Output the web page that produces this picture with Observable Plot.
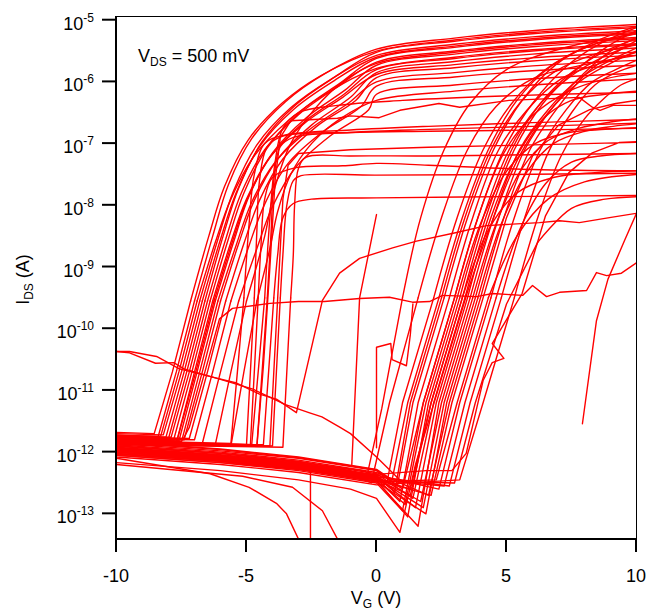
<!DOCTYPE html>
<html><head><meta charset="utf-8">
<script src="https://cdn.jsdelivr.net/npm/d3@7"></script>
<script src="https://cdn.jsdelivr.net/npm/@observablehq/plot@0.6"></script>
<style>
body{margin:0;background:#fff}
svg{font-family:"Liberation Sans",Arial,sans-serif}
</style>
</head><body><div id="chart"></div>
<script>
// Axis ticks
const xTicks = [-10, -5, 0, 5, 10];
const yTickExponents = [-13, -12, -11, -10, -9, -8, -7, -6, -5];
const yDomainExp = [-13.416, -4.94];

// Each curve: [VG (V), log10 IDS (A)] pairs
const dev01 = [[10,-5.07],[6,-5.17],[3,-5.29],[0,-5.47],[-2,-5.87],[-3.5,-6.32],[-4.8,-6.92],[-5.7,-7.67],[-6.3,-8.5],[-7.0,-9.55],[-7.7,-10.7],[-8.4,-11.75],[-10,-11.72],
  [-10,-11.84],[-6,-11.96],[-3,-12.09],[0,-12.29],[1.0,-12.6],[1.8,-11.2],[3.0,-9.5],[3.9,-8.2],[4.9,-7.1],[6.0,-6.35],[7.3,-5.75],[8.6,-5.38],[10,-5.12]];
const dev02 = [[10,-5.12],[6,-5.22],[3,-5.34],[0,-5.52],[-1.6,-5.92],[-3.1,-6.37],[-4.4,-6.97],[-5.3,-7.72],[-5.9,-8.5],[-6.6,-9.55],[-7.3,-10.7],[-8.0,-11.78],[-10,-11.74],
  [-10,-11.9],[-6,-12.02],[-3,-12.15],[0,-12.35],[1.4,-12.75],[2.2,-11.2],[3.4,-9.5],[4.3,-8.2],[5.3,-7.1],[6.4,-6.35],[7.7,-5.8],[8.9,-5.42],[10,-5.17]];
const dev03 = [[10,-5.17],[6,-5.27],[3,-5.39],[0,-5.57],[-1.8,-5.97],[-3.3,-6.42],[-4.6,-7.02],[-5.5,-7.77],[-6.1,-8.55],[-6.8,-9.55],[-7.5,-10.7],[-8.2,-11.72],[-10,-11.7],
  [-10,-11.86],[-6,-11.98],[-3,-12.1],[0,-12.3],[0.8,-12.55],[1.4,-11.2],[2.6,-9.5],[3.5,-8.2],[4.5,-7.1],[5.6,-6.3],[6.9,-5.72],[8.4,-5.35],[10,-5.1]];
const dev04 = [[10,-5.22],[6,-5.32],[3,-5.44],[0,-5.62],[-1.4,-6.02],[-2.9,-6.47],[-4.2,-7.07],[-5.1,-7.8],[-5.7,-8.55],[-6.4,-9.55],[-7.1,-10.7],[-7.8,-11.8],[-10,-11.77],
  [-10,-11.95],[-6,-12.07],[-3,-12.2],[0,-12.42],[1.8,-12.9],[2.6,-11.2],[3.8,-9.5],[4.7,-8.2],[5.7,-7.1],[6.8,-6.4],[8.0,-5.85],[9.0,-5.5],[10,-5.28]];
const dev05 = [[10,-5.28],[6,-5.38],[3,-5.5],[0,-5.68],[-1.5,-6.08],[-3.0,-6.53],[-4.3,-7.1],[-5.2,-7.8],[-5.8,-8.55],[-6.5,-9.55],[-7.2,-10.7],[-7.9,-11.76],[-10,-11.74],
  [-10,-11.9],[-6,-12.02],[-3,-12.16],[-0.5,-12.3],[0.4,-12.5],[1.0,-11.2],[2.2,-9.5],[3.1,-8.2],[4.1,-7.1],[5.2,-6.35],[6.5,-5.8],[8.0,-5.45],[10,-5.22]];
const dev06 = [[10,-5.33],[6,-5.43],[3,-5.55],[0,-5.73],[-1.2,-6.13],[-2.7,-6.58],[-4.0,-7.15],[-4.9,-7.85],[-5.5,-8.6],[-6.2,-9.55],[-6.9,-10.7],[-7.6,-11.82],[-10,-11.8],
  [-10,-12.0],[-6,-12.12],[-3,-12.25],[0,-12.45],[1.2,-13.05],[2.0,-11.2],[3.2,-9.5],[4.1,-8.2],[5.1,-7.1],[6.2,-6.4],[7.5,-5.9],[8.8,-5.58],[10,-5.38]];
const dev07 = [[10,-5.38],[6,-5.48],[3,-5.6],[0,-5.78],[-1.9,-6.18],[-3.4,-6.63],[-4.7,-7.2],[-5.6,-7.9],[-6.2,-8.6],[-6.9,-9.55],[-7.6,-10.7],[-8.3,-11.74],[-10,-11.73],
  [-10,-11.88],[-6,-12.0],[-3,-12.13],[0,-12.33],[2.0,-12.7],[2.8,-11.2],[4.0,-9.5],[4.9,-8.2],[5.9,-7.1],[7.0,-6.4],[8.1,-5.85],[9.1,-5.55],[10,-5.33]];
const dev08 = [[10,-5.45],[6,-5.55],[3,-5.67],[0,-5.85],[-1.0,-6.25],[-2.5,-6.7],[-3.8,-7.25],[-4.7,-7.92],[-5.3,-8.62],[-6.0,-9.55],[-6.7,-10.7],[-7.4,-11.8],[-10,-11.78],
  [-10,-11.98],[-6,-12.1],[-3,-12.23],[0,-12.43],[0.9,-12.8],[1.6,-11.2],[2.8,-9.5],[3.7,-8.2],[4.7,-7.1],[5.8,-6.45],[7.1,-5.95],[8.6,-5.7],[10,-5.52]];
const dev09 = [[10,-5.52],[6,-5.61],[3,-5.72],[0,-5.88],[-1.3,-6.25],[-2.8,-6.68],[-4.1,-7.22],[-5.0,-7.9],[-5.6,-8.6],[-6.3,-9.55],[-7.0,-10.7],[-7.7,-11.85],[-10,-11.83],
  [-10,-12.02],[-6,-12.14],[-3,-12.27],[0,-12.47],[1.6,-13.2],[2.4,-11.2],[3.6,-9.5],[4.5,-8.2],[5.5,-7.1],[6.6,-6.45],[7.8,-5.95],[9.0,-5.65],[10,-5.45]];
const dev10 = [[10,-5.57],[6,-5.66],[3,-5.77],[0,-5.93],[-0.8,-6.3],[-2.3,-6.72],[-3.6,-7.25],[-4.5,-7.92],[-5.1,-8.62],[-5.8,-9.55],[-6.5,-10.7],[-7.2,-11.78],[-10,-11.76],
  [-10,-11.92],[-6,-12.04],[-3,-12.17],[0,-12.37],[2.4,-12.6],[3.2,-11.2],[4.4,-9.5],[5.3,-8.2],[6.3,-7.1],[7.3,-6.45],[8.3,-6.0],[9.2,-5.8],[10,-5.65]];
const dev11 = [[10,-5.65],[6,-5.74],[3,-5.85],[0,-6.0],[-1.1,-6.35],[-2.6,-6.78],[-3.9,-7.3],[-4.8,-7.95],[-5.4,-8.65],[-6.1,-9.55],[-6.8,-10.7],[-7.5,-11.83],[-10,-11.8],
  [-10,-11.97],[-6,-12.09],[-3,-12.22],[-1,-12.35],[-0.2,-12.5],[0.5,-11.2],[1.6,-9.5],[2.5,-8.2],[3.5,-7.1],[4.6,-6.4],[6.0,-5.95],[8.0,-5.72],[10,-5.57]];
const dev12 = [[10,-5.73],[6,-5.82],[3,-5.92],[0,-6.07],[-0.6,-6.4],[-2.1,-6.82],[-3.4,-7.32],[-4.3,-7.98],[-4.9,-8.65],[-5.6,-9.55],[-6.3,-10.7],[-7.0,-11.8],[-10,-11.79],
  [-10,-12.05],[-6,-12.17],[-3,-12.3],[0,-12.5],[1.0,-12.95],[1.8,-11.2],[3.0,-9.5],[3.9,-8.2],[4.9,-7.15],[6.0,-6.55],[7.4,-6.15],[8.8,-5.95],[10,-5.86]];
const dev13 = [[10,-5.86],[6,-5.95],[3,-6.05],[0,-6.2],[-0.3,-6.45],[-1.8,-6.88],[-3.1,-7.38],[-4.0,-8.02],[-4.6,-8.7],[-5.3,-9.55],[-6.0,-10.7],[-6.7,-11.86],[-10,-11.84],
  [-10,-11.95],[-6,-12.07],[-3,-12.2],[0,-12.4],[2.8,-12.55],[3.6,-11.2],[4.8,-9.5],[5.7,-8.2],[6.6,-7.15],[7.5,-6.5],[8.4,-6.05],[9.2,-5.85],[10,-5.73]];
const dev14 = [[10,-5.1],[6,-5.2],[3,-5.32],[0,-5.5],[-2.15,-5.9],[-3.65,-6.35],[-4.95,-6.95],[-5.85,-7.7],[-6.45,-8.5],[-7.15,-9.55],[-7.85,-10.7],[-8.55,-11.7],[-10,-11.68],
  [-10,-11.83],[-6,-11.95],[-3,-12.08],[0,-12.28],[0.6,-12.45],[1.2,-11.2],[2.4,-9.5],[3.3,-8.2],[4.3,-7.1],[5.4,-6.3],[6.7,-5.75],[8.3,-5.4],[10,-5.2]];
const dev15 = [[10,-5.3],[6,-5.4],[3,-5.52],[0,-5.7],[-1.3,-6.0],[-2.4,-6.45],[-3.3,-7.0],[-3.9,-7.7],[-4.3,-8.5],[-5.0,-9.55],[-5.6,-10.7],[-6.2,-11.88],[-10,-11.85],
  [-10,-12.0],[-6,-12.12],[-3,-12.25],[0,-12.45],[1.3,-12.7],[2.1,-11.2],[3.3,-9.5],[4.2,-8.2],[5.2,-7.1],[6.3,-6.35],[7.5,-5.85],[8.7,-5.52],[10,-5.3]];
const dev16 = [[10,-5.2],[6,-5.3],[3,-5.42],[0,-5.6],[-1.7,-6.0],[-3.2,-6.45],[-4.5,-7.05],[-5.4,-7.8],[-6.0,-8.55],[-6.7,-9.55],[-7.4,-10.7],[-8.1,-11.76],[-10,-11.74],
  [-10,-11.9],[-6,-12.02],[-3,-12.15],[-1,-12.3],[-0.4,-12.45],[0.2,-11.3],[1.0,-9.5],[1.7,-8.2],[2.6,-7.1],[3.6,-6.35],[5.0,-5.8],[7.2,-5.45],[10,-5.22]];
const dev17 = [[10,-5.95],[6,-6.05],[3,-6.15],[0,-6.3],[-1.4,-6.6],[-2.5,-7.0],[-3.3,-7.5],[-3.8,-8.1],[-4.1,-8.7],[-4.6,-9.55],[-5.1,-10.7],[-5.6,-11.9],[-10,-11.87],
  [-10,-12.08],[-6,-12.2],[-3,-12.33],[0,-12.53],[3.2,-12.45],[4.1,-11.2],[5.3,-9.5],[6.2,-8.2],[7.1,-7.2],[8.0,-6.6],[8.8,-6.25],[9.4,-6.05],[10,-5.95]];
const dev18 = [[10,-5.4],[6,-5.5],[3,-5.62],[0,-5.8],[-1.25,-6.2],[-2.75,-6.64],[-4.05,-7.2],[-4.95,-7.88],[-5.55,-8.6],[-6.25,-9.55],[-6.95,-10.7],[-7.65,-11.78],[-10,-11.76],
  [-10,-11.93],[-6,-12.05],[-3,-12.18],[0,-12.38],[0.7,-12.65],[1.3,-11.2],[2.5,-9.5],[3.4,-8.2],[4.4,-7.1],[5.5,-6.35],[6.8,-5.85],[8.4,-5.55],[10,-5.4]];
// devices with lower on-current plateaus
const dev19 = [[10,-6.17],[7,-6.2],[4,-6.24],[1,-6.3],[-1.5,-6.38],[-3.0,-6.5],[-3.6,-6.75],[-3.9,-7.3],[-4.1,-8.2],[-4.3,-9.5],[-4.55,-10.7],[-4.8,-11.88],[-10,-11.82],
  [-10,-11.96],[-6,-12.08],[-3,-12.21],[0,-12.41],[1.5,-12.9],[2.3,-11.2],[3.5,-9.5],[4.4,-8.2],[5.4,-7.2],[6.4,-6.6],[7.5,-6.3],[8.8,-6.2],[10,-6.15]];
const dev20 = [[10,-6.38],[9.1,-6.38],[8.6,-6.46],[8.3,-6.41],[7.8,-6.25],[5.1,-6.3],[3.2,-6.41],[2.4,-6.35],[0.9,-6.46],[0.1,-6.58],[-1.0,-6.55],[-1.5,-6.59],[-3.3,-6.63],[-3.7,-6.9],[-3.9,-7.6],[-4.1,-9.0],[-4.35,-10.6],[-4.6,-11.9],[-10,-11.85],
  [-10,-12.0],[-6,-12.12],[-3,-12.25],[0,-12.45],[2.1,-12.7],[2.9,-11.2],[4.1,-9.5],[5.0,-8.2],[6.0,-7.2],[7.0,-6.7],[8.2,-6.45],[9.2,-6.35],[10,-6.3]];
const dev21 = [[10,-6.61],[6,-6.66],[2,-6.72],[-1,-6.78],[-3.5,-6.86],[-4.3,-7.0],[-4.7,-7.5],[-4.9,-8.3],[-5.1,-9.5],[-5.35,-10.7],[-5.6,-11.86],[-10,-11.81],
  [-10,-11.94],[-6,-12.06],[-3,-12.19],[0,-12.39],[1.7,-12.8],[2.5,-11.2],[3.7,-9.5],[4.6,-8.3],[5.6,-7.4],[6.6,-6.95],[7.8,-6.75],[9,-6.65],[10,-6.6]];
const dev22 = [[10,-6.67],[6,-6.72],[2,-6.77],[-1,-6.82],[-3.2,-6.9],[-3.7,-7.05],[-3.95,-7.6],[-4.05,-8.4],[-4.2,-9.5],[-4.4,-10.7],[-4.6,-11.9],[-10,-11.86],
  [-10,-12.03],[-6,-12.15],[-3,-12.28],[0,-12.48],[1.9,-13.0],[2.7,-11.2],[3.9,-9.5],[4.8,-8.3],[5.8,-7.45],[6.8,-7.0],[8.0,-6.8],[9.1,-6.72],[10,-6.68]];
const dev23 = [[10,-6.75],[6,-6.78],[2,-6.8],[-1,-6.82],[-3.6,-6.88],[-4.2,-7.05],[-4.5,-7.6],[-4.6,-8.4],[-4.7,-9.5],[-4.85,-10.7],[-5.0,-11.88],[-10,-11.84],
  [-10,-11.98],[-6,-12.1],[-3,-12.23],[0,-12.43],[1.1,-12.85],[1.9,-11.2],[3.1,-9.5],[4.0,-8.3],[5.0,-7.45],[6.1,-7.0],[7.4,-6.82],[8.8,-6.77],[10,-6.74]];
const dev24 = [[10,-6.98],[6,-7.02],[2,-7.06],[-1,-7.1],[-3.0,-7.16],[-3.4,-7.35],[-3.6,-7.9],[-3.7,-8.7],[-3.8,-9.5],[-3.95,-10.7],[-4.1,-11.9],[-10,-11.87],
  [-10,-12.05],[-6,-12.17],[-3,-12.28],[0,-12.36],[1.9,-12.3],[2.9,-12.3],[3.45,-12.02],[4.1,-10.84],[4.45,-10.55],[4.9,-10.48],[4.45,-10.24],[5.6,-9.43],[6.5,-8.17],[7.4,-7.47],[8.3,-7.15],[9.35,-6.98],[10,-6.97]];
const dev25 = [[10,-7.16],[6,-7.18],[2,-7.2],[-1,-7.2],[-2.7,-7.22],[-3.0,-7.4],[-3.15,-8.0],[-3.2,-8.8],[-3.3,-9.5],[-3.45,-10.7],[-3.6,-11.92],[-10,-11.88],
  [-10,-12.0],[-6,-12.12],[-3,-12.25],[0,-12.45],[2.6,-12.55],[3.4,-11.2],[4.6,-9.5],[5.5,-8.4],[6.5,-7.65],[7.5,-7.3],[8.6,-7.2],[10,-7.16]];
const dev26 = [[10,-7.44],[6,-7.42],[2,-7.35],[0,-7.32],[-1.3,-7.36],[-3.1,-7.39],[-4.0,-7.55],[-4.3,-7.9],[-4.45,-8.7],[-4.55,-9.5],[-4.7,-10.7],[-4.85,-11.88],[-10,-11.83],
  [-10,-11.97],[-6,-12.09],[-3,-12.22],[0,-12.42],[1.3,-12.6],[2.1,-11.2],[3.3,-9.5],[4.3,-8.4],[5.4,-7.8],[6.8,-7.55],[8.4,-7.47],[10,-7.44]];
const dev27 = [[10,-7.48],[5,-7.5],[0,-7.51],[-2.9,-7.52],[-3.2,-7.6],[-3.45,-8.0],[-3.6,-8.8],[-3.7,-9.5],[-3.85,-10.7],[-4.0,-11.9],[-10,-11.86],
  [-10,-12.03],[-6,-12.15],[-3,-12.28],[0,-12.48],[2.3,-12.45],[3.1,-11.2],[4.3,-9.5],[5.4,-8.5],[6.6,-7.9],[8.0,-7.62],[10,-7.5]];
const dev28 = [[10,-7.84],[5,-7.86],[0,-7.88],[-2.5,-7.9],[-3.2,-7.97],[-3.6,-8.2],[-3.8,-8.8],[-3.95,-9.5],[-4.15,-10.7],[-4.35,-11.88],[-10,-11.85],
  [-10,-12.02],[-6,-12.14],[-3,-12.27],[0,-12.47],[3.0,-12.5],[3.8,-11.2],[5.0,-9.6],[6.2,-8.6],[7.5,-8.05],[8.8,-7.9],[10,-7.86]];
// irregular devices and partial sweeps
const dev29 = [[10,-8.93],[9.42,-9.1],[8.85,-9.14],[8.46,-9.09],[8.08,-9.38],[7.04,-9.41],[6.54,-9.48],[6.0,-9.3],[5.62,-9.46],[4.46,-9.43],[3.85,-9.48],[2.54,-9.46],[2.04,-9.56],[1.38,-9.57],[0.5,-9.49],[-0.65,-9.51],[-2.0,-9.56],[-3.0,-9.56],[-4.1,-9.59],[-5.54,-9.67],[-6.04,-9.84],[-6.6,-10.7],[-7.2,-11.6],[-7.45,-11.8],[-10,-11.82]];
const dev30 = [[-10,-10.37],[-9.5,-10.37],[-8.46,-10.45],[-7.58,-10.65],[-6.15,-10.8],[-5.38,-10.88],[-4.5,-11.06],[-3.85,-11.14],[-3.08,-11.36],[-2.08,-9.54],[-1.42,-9.1],[-0.65,-8.86],[0.62,-8.69],[1.54,-8.58],[3.08,-8.44],[4.23,-8.33],[6.27,-8.28],[7.04,-8.25],[7.8,-8.28],[8.96,-8.2],[10,-8.13]];
const dev31 = [[-10,-10.37],[-9.5,-10.39],[-8.5,-10.56],[-7.8,-10.55],[-7.4,-10.65],[-6.0,-10.82],[-4.75,-10.98],[-3.5,-11.23],[-2.6,-11.36],[-2.1,-11.43],[-1.4,-11.6],[-1.0,-11.7],[0,-12.08],[0.9,-12.45]];
const dev32 = [[7.92,-11.54],[8.46,-9.87],[8.9,-9.2],[9.54,-8.57],[10,-8.13]];
const dev33 = [[-0.95,-12.2],[-0.65,-9.5],[0,-8.15]];
const dev34 = [[0,-11.93],[0,-10.3],[0.55,-10.24],[0.6,-10.5],[1.15,-10.6],[1.3,-10.1],[1.4,-9.6]];
const dev35 = [[-10,-12.1],[-6.4,-12.35],[-4.9,-12.57],[-3.85,-12.83],[-3.46,-13.0],[-3.0,-13.41]];
const dev36 = [[-10,-12.2],[-5.15,-12.39],[-3.23,-12.57],[-2.08,-12.95],[-1.5,-13.41]];
const dev37 = [[-2.54,-12.27],[-2.54,-13.41]];
const dev38 = [[-10,-12.17],[-6,-12.3],[-3,-12.45],[-1,-12.6],[0,-12.75],[0.9,-13.3],[1.5,-12.2],[2.5,-10.8],[3.5,-9.4],[4.5,-8.2],[5.5,-7.2],[6.6,-6.5],[7.8,-6.0],[9,-5.7],[10,-5.5]];

const curves = [dev01,dev02,dev03,dev04,dev05,dev06,dev07,dev08,dev09,dev10,dev11,dev12,dev13,dev14,dev15,dev16,dev17,dev18,
  dev19,dev20,dev21,dev22,dev23,dev24,dev25,dev26,dev27,dev28,dev29,dev30,dev31,dev32,dev33,dev34,dev35,dev36,dev37,dev38];
// noisy / partial sweeps: measured points joined by straight segments only
const straightCurves = [dev20, dev24, dev29, dev30, dev31, dev32, dev33, dev34, dev35, dev36, dev37];

// split every sweep into runs: the saturating (on-state) part is drawn smooth,
// the steep switching and off-state parts with straight segments
const runs = [];
curves.forEach(c => {
  const straight = straightCurves.includes(c);
  let cur = null;
  for (let i = 0; i < c.length - 1; i++) {
    const smooth = !straight && c[i][1] > -9.6 && c[i + 1][1] > -9.6;
    if (!cur || cur.smooth !== smooth) { cur = {smooth, pts: [c[i]]}; runs.push(cur); }
    cur.pts.push(c[i + 1]);
  }
});
const rows = runs.flatMap((r, id) => r.pts.map(([vg, lg]) => ({id, smooth: r.smooth, vg, ids: Math.pow(10, lg)})));

const FONT = '"Liberation Sans", Arial, sans-serif';
const plot = Plot.plot({
  width: 648, height: 616,
  marginLeft: 116, marginRight: 12, marginTop: 16, marginBottom: 77,
  style: {background: "white", fontFamily: FONT, overflow: "visible"},
  x: {domain: [-10, 10], axis: null},
  y: {type: "log", domain: [Math.pow(10, yDomainExp[0]), Math.pow(10, yDomainExp[1])], axis: null},
  marks: [
    Plot.line(rows.filter(d => d.smooth), {x: "vg", y: "ids", z: "id", stroke: "#ff0000", strokeWidth: 1.4, curve: "catmull-rom", clip: true}),
    Plot.line(rows.filter(d => !d.smooth), {x: "vg", y: "ids", z: "id", stroke: "#ff0000", strokeWidth: 1.4, clip: true}),
    Plot.frame({stroke: "black", strokeWidth: 1})
  ]
});

const sx = plot.scale("x"), sy = plot.scale("y");
const X = d3.scaleLinear(sx.domain, sx.range);
const Y = d3.scaleLog(sy.domain, sy.range);
const svg = d3.select(plot);
const [x0, x1] = X.range();
const [yb, yt] = Y.range();
const g = svg.append("g").attr("fill", "black").attr("text-anchor", "start").style("font-family", FONT);

// thick left and bottom axis lines
g.append("line").attr("x1", x0).attr("x2", x0).attr("y1", yt).attr("y2", yb + 1).attr("stroke", "black").attr("stroke-width", 2);
g.append("line").attr("x1", x0 - 1).attr("x2", x1).attr("y1", yb).attr("y2", yb).attr("stroke", "black").attr("stroke-width", 2);

// x ticks
xTicks.forEach(v => {
  const px = X(v);
  g.append("line").attr("x1", px).attr("x2", px).attr("y1", yb).attr("y2", yb + 13).attr("stroke", "black").attr("stroke-width", 2);
  g.append("text").attr("x", px).attr("y", yb + 43).attr("text-anchor", "middle").attr("font-size", 18).text(String(v));
});
// y ticks
yTickExponents.forEach(e => {
  const py = Y(Math.pow(10, e));
  g.append("line").attr("x1", x0 - 14).attr("x2", x0).attr("y1", py).attr("y2", py).attr("stroke", "black").attr("stroke-width", 2);
  const t = g.append("text").attr("x", x0 - 22).attr("y", py + 10).attr("text-anchor", "end").attr("font-size", 18);
  t.append("tspan").text("10");
  t.append("tspan").attr("dy", -8).attr("font-size", 12).text(String(e));
});

// axis titles
const xt = g.append("text").attr("x", (x0 + x1) / 2).attr("y", 604).attr("text-anchor", "middle").attr("font-size", 18);
xt.append("tspan").text("V");
xt.append("tspan").attr("dy", 4).attr("font-size", 12).text("G");
xt.append("tspan").attr("dy", -4).text(" (V)");

const yt2 = g.append("text").attr("transform", `translate(29,${(yt + yb) / 2 + 2}) rotate(-90)`).attr("text-anchor", "middle").attr("font-size", 18);
yt2.append("tspan").text("I");
yt2.append("tspan").attr("dy", 4).attr("font-size", 12).text("DS");
yt2.append("tspan").attr("dy", -4).text(" (A)");

// annotation
const an = g.append("text").attr("x", 138).attr("y", 62).attr("text-anchor", "start").attr("font-size", 18);
an.append("tspan").text("V");
an.append("tspan").attr("dy", 4).attr("font-size", 12).text("DS");
an.append("tspan").attr("dy", -4).text(" = 500 mV");

document.getElementById("chart").append(plot);
</script>
</body></html>
